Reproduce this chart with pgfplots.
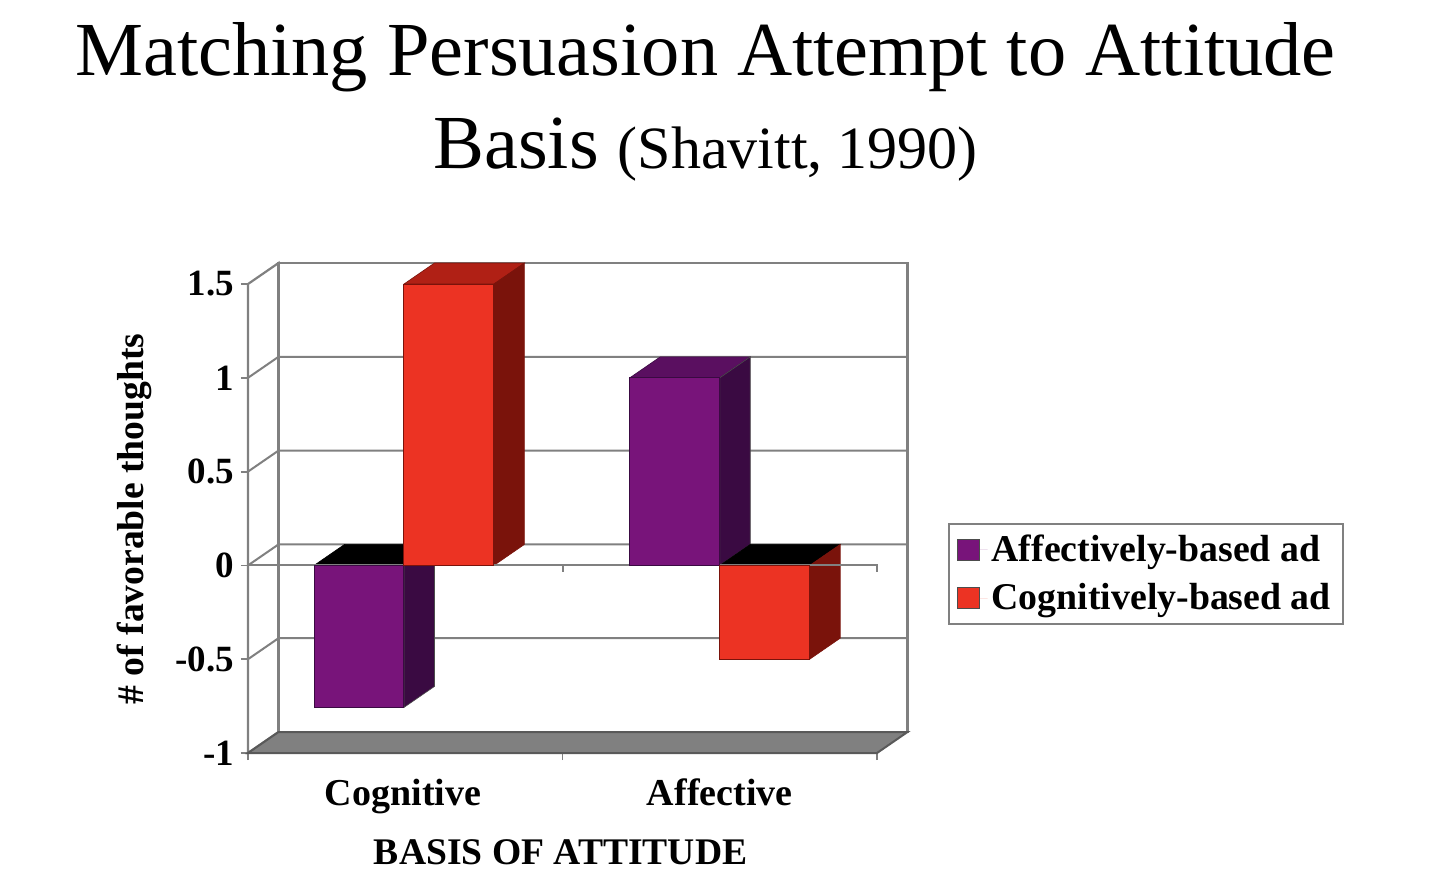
\documentclass[border=0pt]{standalone}
\usepackage{pgfplots}
\pgfplotsset{compat=1.18}
\usepackage{fontspec}
\setmainfont{Liberation Serif}
\definecolor{pur}{HTML}{78147A}
\definecolor{purside}{HTML}{3A0A42}
\definecolor{purtop}{HTML}{5A0F60}
\definecolor{rd}{HTML}{EC3323}
\definecolor{rdside}{HTML}{7A130B}
\definecolor{rdtop}{HTML}{B02015}
\definecolor{wall}{HTML}{808080}
\begin{document}
\begin{tikzpicture}[x=0.5pt,y=-0.5pt]
\path (0,0) rectangle (1440,895);
\begin{axis}[
  at={(124pt,-376.5pt)}, anchor=south west,
  scale only axis, width=314.5pt, height=234.5pt,
  xmin=0, xmax=2, ymin=-1, ymax=1.5,
  clip=false,
  axis x line=bottom, axis y line=left,
  axis line style={-, draw=wall, line width=1.1pt},
  x axis line style={draw=black!70},
  tick align=outside, major tick length=3.5pt,
  tick style={draw=wall, line width=0.9pt},
  xtick={0,1,2}, xticklabels={},
  extra x ticks={0.493,1.5},
  extra x tick labels={Cognitive,Affective},
  extra x tick style={major tick length=0pt, tick label style={font=\bfseries\fontsize{19}{21}\selectfont, yshift=-9.5pt}},
  ytick={-1,-0.5,0,0.5,1,1.5},
  yticklabels={-1,-0.5,0,0.5,1,1.5},
  y tick label style={font=\bfseries\fontsize{18.5}{20}\selectfont, xshift=0pt},
  xlabel={BASIS OF ATTITUDE},
  xlabel style={font=\bfseries\fontsize{18.8}{20}\selectfont, at={(axis description cs:0.497,-0.211)}, anchor=center},
  ylabel={\# of favorable thoughts},
  ylabel style={font=\bfseries\fontsize{18.8}{20}\selectfont, at={(axis description cs:-0.18,0.499)}, anchor=center},
  legend style={at={(axis description cs:1.113,0.4904)}, anchor=north west, draw=wall, line width=1.1pt,
    font=\bfseries\fontsize{18.9}{21}\selectfont, inner xsep=4pt, inner ysep=3.5pt, row sep=5.5pt},
  legend cell align=left,
  legend image code/.code={\draw[fill=#1, draw=black!70, line width=0.5pt] (0pt,-5.2pt) rectangle (11pt,5.2pt); \path[draw=none] (0pt,0pt) -- (15pt,0pt);},
]
% side walls, back wall
\addplot[fill=white, draw=wall, line width=1.1pt, forget plot] coordinates {(0,-1)(0.097,-0.888)(0.097,1.612)(0,1.5)} -- cycle;
\addplot[fill=white, draw=wall, line width=1.1pt, forget plot] coordinates {(0.097,-0.888)(2.097,-0.888)(2.097,1.612)(0.097,1.612)} -- cycle;
% grid
\addplot[draw=wall, line width=1pt, forget plot] coordinates {(0,-0.5)(0.097,-0.388)(2.097,-0.388)};
\addplot[draw=wall, line width=1pt, forget plot] coordinates {(0,0)(0.097,0.112)(2.097,0.112)};
\addplot[draw=wall, line width=1pt, forget plot] coordinates {(0,0.5)(0.097,0.612)(2.097,0.612)};
\addplot[draw=wall, line width=1pt, forget plot] coordinates {(0,1)(0.097,1.112)(2.097,1.112)};
% floor
\addplot[fill=wall, draw=black!65, line width=1pt, forget plot] coordinates {(0,-1)(0.097,-0.888)(2.097,-0.888)(2,-1)} -- cycle;
% tops and sides
\addplot[fill=black, draw=black, line width=0.3pt, forget plot] coordinates {(0.21,0)(0.307,0.112)(0.593,0.112)(0.496,0)} -- cycle;
\addplot[fill=purside, draw=black!70, line width=0.3pt, forget plot] coordinates {(0.496,0)(0.593,0.112)(0.593,-0.645)(0.496,-0.757)} -- cycle;
\addplot[fill=rdtop, draw=rdside, line width=0.3pt, forget plot] coordinates {(0.496,1.5)(0.593,1.612)(0.879,1.612)(0.782,1.5)} -- cycle;
\addplot[fill=rdside, draw=rdside, line width=0.3pt, forget plot] coordinates {(0.782,0)(0.879,0.112)(0.879,1.612)(0.782,1.5)} -- cycle;
\addplot[fill=purtop, draw=purside, line width=0.3pt, forget plot] coordinates {(1.214,1)(1.311,1.112)(1.597,1.112)(1.5,1)} -- cycle;
\addplot[fill=purside, draw=black!70, line width=0.3pt, forget plot] coordinates {(1.5,0)(1.597,0.112)(1.597,1.112)(1.5,1)} -- cycle;
\addplot[fill=black, draw=black, line width=0.3pt, forget plot] coordinates {(1.5,0)(1.597,0.112)(1.883,0.112)(1.786,0)} -- cycle;
\addplot[fill=rdside, draw=rdside, line width=0.3pt, forget plot] coordinates {(1.786,0)(1.883,0.112)(1.883,-0.388)(1.786,-0.5)} -- cycle;
% zero line with its ticks
\addplot[draw=wall, line width=1pt, forget plot] coordinates {(0,0)(2,0)(2,-0.035)};
\addplot[draw=wall, line width=1pt, forget plot] coordinates {(1,0)(1,-0.035)};
% front faces
\addplot[ybar, bar width=0.286, bar shift=-0.143, fill=pur, draw=purside, line width=0.5pt] coordinates {(0.496,-0.757)(1.5,1.0)};
\addlegendentry{Affectively-based ad}
\addplot[ybar, bar width=0.286, bar shift=0.143, fill=rd, draw=rdside, line width=0.5pt] coordinates {(0.496,1.5)(1.5,-0.5)};
\addlegendentry{Cognitively-based ad}
\end{axis}
\node[anchor=center, font=\fontsize{38.2}{42}\selectfont] at (705.5,57) {Matching Persuasion Attempt to Attitude};
\node[anchor=center, font=\fontsize{38.2}{42}\selectfont] at (705.5,150) {Basis {\fontsize{30}{32}\selectfont (Shavitt, 1990)}};
\end{tikzpicture}
\end{document}
